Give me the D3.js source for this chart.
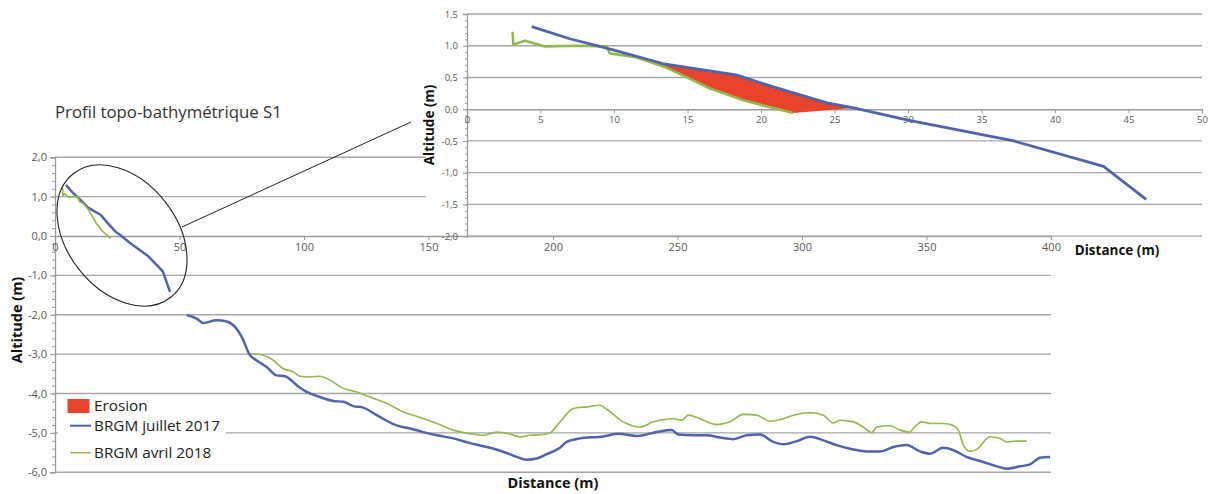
<!DOCTYPE html>
<html><head><meta charset="utf-8">
<script src="https://cdn.jsdelivr.net/npm/d3@7"></script>
<style>body{margin:0;background:#fff}svg{display:block}text{font-family:"Open Sans",sans-serif}</style>
</head><body><svg id="c" width="1208" height="494"></svg>
<script>
const title = "Profil topo-bathymétrique S1";
const legendLabels = ["Erosion", "BRGM juillet 2017", "BRGM avril 2018"];
const axisTitleX = "Distance  (m)";
const axisTitleY = "Altitude  (m)";
const mainXTicks = [0, 50, 100, 150, 200, 250, 300, 350, 400];
const mainYTicks = [2, 1, 0, -1, -2, -3, -4, -5, -6];
const insetXTicks = [0, 5, 10, 15, 20, 25, 30, 35, 40, 45, 50];
const insetYTicks = [1.5, 1, 0.5, 0, -0.5, -1, -1.5, -2];

// topographic part (distance m, altitude m)
const topo2017 = [[4.4,1.30],[7,1.11],[10,0.93],[13.3,0.72],[15.5,0.64],[18.3,0.54],[21,0.34],[24.5,0.10],[26.3,0.02],[30,-0.17],[37.2,-0.50],[43.3,-0.90],[46.2,-1.42]];
const topo2018 = [[3.1,1.22],[3.15,1.02],[3.95,1.08],[5.3,0.99],[7.5,1.0],[9.5,0.99],[9.7,0.88],[11.5,0.82],[13.4,0.67],[14.9,0.51],[16.5,0.33],[18.8,0.14],[22.2,-0.06]];
// bathymetric part
const bathy2017 = [[52.9,-2.01],[56.9,-2.10],[59.6,-2.21],[64.9,-2.14],[69.0,-2.17],[72.3,-2.31],[75.0,-2.56],[78.3,-3.03],[81.0,-3.16],[85.0,-3.33],[89.0,-3.54],[92.4,-3.56],[97.1,-3.79],[101.1,-3.96],[106.4,-4.09],[111.8,-4.19],[115.8,-4.21],[119.8,-4.32],[123.8,-4.36],[129.2,-4.55],[137.2,-4.81],[142.6,-4.89],[147.9,-4.98],[153.3,-5.06],[160.0,-5.14],[166.7,-5.26],[173.4,-5.36],[180.0,-5.48],[185.4,-5.61],[189.4,-5.68],[193.5,-5.65],[197.5,-5.54],[202.8,-5.38],[205.5,-5.23],[210.8,-5.14],[220.2,-5.09],[226.2,-5.02],[233.6,-5.08],[241.6,-4.98],[247.7,-4.93],[250.3,-5.04],[256.3,-5.06],[261.7,-5.06],[267.1,-5.12],[272.4,-5.16],[277.8,-5.06],[283.1,-5.04],[288.5,-5.23],[292.5,-5.29],[297.9,-5.21],[303.2,-5.10],[308.6,-5.19],[313.9,-5.31],[320.6,-5.42],[326.0,-5.47],[331.3,-5.47],[336.7,-5.36],[342.0,-5.31],[347.4,-5.47],[351.4,-5.53],[356.7,-5.38],[360.8,-5.44],[366.1,-5.61],[372.8,-5.74],[378.2,-5.85],[382.2,-5.91],[387.6,-5.85],[391.6,-5.80],[395.6,-5.63],[399.6,-5.61]];
const bathy2018 = [[78.3,-2.99],[83.7,-3.03],[87.7,-3.16],[91.7,-3.37],[95.7,-3.45],[98.4,-3.56],[102.4,-3.58],[106.4,-3.56],[110.4,-3.66],[115.8,-3.87],[121.2,-3.96],[126.5,-4.09],[133.2,-4.25],[139.9,-4.47],[146.6,-4.61],[153.3,-4.76],[160.0,-4.93],[166.7,-5.02],[172.0,-5.06],[177.4,-4.98],[182.7,-5.03],[186.7,-5.10],[190.8,-5.06],[196.1,-5.04],[198.8,-5.00],[202.8,-4.72],[208.2,-4.38],[213.5,-4.34],[218.9,-4.30],[221.6,-4.40],[228.2,-4.72],[234.9,-4.85],[240.3,-4.72],[248.3,-4.64],[251.7,-4.68],[254.3,-4.55],[259.0,-4.64],[265.7,-4.79],[271.1,-4.72],[276.4,-4.53],[281.8,-4.55],[287.1,-4.70],[292.5,-4.64],[296.5,-4.55],[303.2,-4.49],[308.6,-4.55],[312.6,-4.75],[315.3,-4.68],[320.6,-4.72],[324.6,-4.85],[328.0,-4.99],[330.0,-4.85],[335.3,-4.82],[339.4,-4.93],[343.4,-4.98],[344.7,-4.89],[348.1,-4.72],[351.4,-4.76],[356.7,-4.76],[360.8,-4.81],[362.8,-4.93],[364.8,-5.31],[367.5,-5.47],[370.2,-5.42],[375.5,-5.10],[379.5,-5.14],[382.2,-5.23],[386.2,-5.21],[390.2,-5.21]];
const erosionRange = [12, 26.3];

const C_BLUE = "#5163a9", C_GREEN = "#93b84b", C_RED = "#e8432b", C_GRID = "#a6a6a6", C_AXIS = "#9a9a9a", C_LBL = "#595959";
const loc = d3.formatLocale({decimal: ",", thousands: " ", grouping: [3], currency: ["", ""], minus: "-"});
const f1 = loc.format(".1f");

const svg = d3.select("#c");

// ---------- MAIN CHART ----------
const mx = d3.scaleLinear().domain([0, 400]).range([55, 1051]);
const my = d3.scaleLinear().domain([-6, 2]).range([472.25, 157.25]);
const main = svg.append("g");

main.selectAll("line.g").data(mainYTicks.filter(d => d !== 0)).join("line")
  .attr("x1", mx(0)).attr("x2", mx(400)).attr("y1", d => my(d)).attr("y2", d => my(d))
  .attr("stroke", C_GRID).attr("stroke-width", 1.3);

const myAxis = main.append("g").attr("transform", `translate(${mx(0)},0)`)
  .call(d3.axisLeft(my).tickValues(mainYTicks).tickFormat(f1).tickSize(5).tickPadding(3));
main.append("g").attr("transform", `translate(${mx(0)},0)`)
  .call(d3.axisLeft(my).tickValues(d3.range(-6, 2.001, 0.2)).tickFormat("").tickSize(3))
  .call(g => g.select(".domain").remove());
const mxAxis = main.append("g").attr("transform", `translate(0,${my(0)})`)
  .call(d3.axisBottom(mx).tickValues(mainXTicks).tickFormat(d3.format("d")).tickSize(4).tickPadding(3));
[myAxis, mxAxis].forEach(g => {
  g.select(".domain").attr("stroke", C_AXIS).attr("stroke-width", 1.3);
  g.selectAll(".tick text").attr("fill", C_LBL).style("font-size", "11px").style("font-family", "Open Sans");
});
main.selectAll(".tick line").attr("stroke", C_AXIS);

const mline = d3.line().x(d => mx(d[0])).y(d => my(d[1])).curve(d3.curveMonotoneX);
main.append("path").attr("d", mline(bathy2018)).attr("fill", "none").attr("stroke", C_GREEN).attr("stroke-width", 1.6).attr("stroke-linejoin", "round");
main.append("path").attr("d", mline(bathy2017)).attr("fill", "none").attr("stroke", C_BLUE).attr("stroke-width", 2.5).attr("stroke-linejoin", "round");
const mlineS = d3.line().x(d => mx(d[0])).y(d => my(d[1]));
main.append("path").attr("d", mlineS(topo2017)).attr("fill", "none").attr("stroke", C_BLUE).attr("stroke-width", 2.5).attr("stroke-linejoin", "round");
main.append("path").attr("d", mlineS(topo2018)).attr("fill", "none").attr("stroke", C_GREEN).attr("stroke-width", 1.6).attr("stroke-linejoin", "round");

main.append("ellipse").attr("cx", 122).attr("cy", 235.5).attr("rx", 78.7).attr("ry", 54.8)
  .attr("transform", "rotate(51.75,122,235.5)").attr("fill", "none").attr("stroke", "#222").attr("stroke-width", 1.1);
main.append("line").attr("x1", 182).attr("y1", 227).attr("x2", 411).attr("y2", 122).attr("stroke", "#222").attr("stroke-width", 1);

svg.append("text").attr("x", 55).attr("y", 118).text(title).attr("fill", "#333").style("font-size", "16.8px");

svg.append("text").attr("transform", "translate(22,320) rotate(-90)").attr("text-anchor", "middle")
  .text(axisTitleY).style("font-weight", "bold").style("font-size", "14.5px").attr("fill", "#111");
svg.append("text").attr("x", 553).attr("y", 488).attr("text-anchor", "middle")
  .text(axisTitleX).style("font-weight", "bold").style("font-size", "14.5px").attr("fill", "#111");

const lg = svg.append("g");
lg.append("rect").attr("x", 58).attr("y", 395).attr("width", 168).attr("height", 70).attr("fill", "#fff");
lg.append("rect").attr("x", 67.5).attr("y", 399).attr("width", 22).attr("height", 14).attr("fill", C_RED);
lg.append("line").attr("x1", 70).attr("x2", 91).attr("y1", 425.7).attr("y2", 425.7).attr("stroke", C_BLUE).attr("stroke-width", 2);
lg.append("line").attr("x1", 70).attr("x2", 91).attr("y1", 452.7).attr("y2", 452.7).attr("stroke", C_GREEN).attr("stroke-width", 1.5);
lg.selectAll("text").data(legendLabels).join("text")
  .attr("x", 94).attr("y", (d, i) => [406, 425.7, 452.7][i]).attr("dy", "0.35em")
  .text(d => d).attr("fill", "#222").style("font-size", "15.3px");

// ---------- INSET ----------
const ix = d3.scaleLinear().domain([0, 50]).range([467, 1202]);
const iy = d3.scaleLinear().domain([-2, 1.5]).range([236.2, 14]);
const ins = svg.append("g");
ins.append("rect").attr("x", 426).attr("y", 0).attr("width", 782).attr("height", 233).attr("fill", "#fff");
ins.selectAll("line.g").data(insetYTicks.filter(d => d !== 0)).join("line")
  .attr("x1", ix(0)).attr("x2", ix(50)).attr("y1", d => iy(d)).attr("y2", d => iy(d))
  .attr("stroke", C_GRID).attr("stroke-width", 1.3);
const iyAxis = ins.append("g").attr("transform", `translate(${ix(0)},0)`)
  .call(d3.axisLeft(iy).tickValues(insetYTicks).tickFormat(f1).tickSize(4).tickPadding(5));
ins.append("g").attr("transform", `translate(${ix(0)},0)`)
  .call(d3.axisLeft(iy).tickValues(d3.range(-2, 1.501, 0.1)).tickFormat("").tickSize(2))
  .call(g => g.select(".domain").remove());
const ixAxis = ins.append("g").attr("transform", `translate(0,${iy(0)})`)
  .call(d3.axisBottom(ix).tickValues(insetXTicks).tickFormat(d3.format("d")).tickSize(4).tickPadding(3));
[iyAxis, ixAxis].forEach(g => {
  g.select(".domain").attr("stroke", C_AXIS).attr("stroke-width", 1.3);
  g.selectAll(".tick text").attr("fill", C_LBL).style("font-size", "9.5px").style("font-family", "Open Sans");
});
ins.selectAll(".tick line").attr("stroke", C_AXIS);

function interp(arr, x) {
  for (let i = 0; i < arr.length - 1; i++) {
    if (x >= arr[i][0] && x <= arr[i + 1][0]) {
      const t = (x - arr[i][0]) / (arr[i + 1][0] - arr[i][0]);
      return arr[i][1] + t * (arr[i + 1][1] - arr[i][1]);
    }
  }
  return arr[arr.length - 1][1];
}
const [e0, e1] = erosionRange;
const upper = [[e0, interp(topo2017, e0)], ...topo2017.filter(d => d[0] > e0 && d[0] < e1), [e1, interp(topo2017, e1)]];
const lower = [[e0, interp(topo2018, e0)], ...topo2018.filter(d => d[0] > e0)];
const poly = upper.concat(lower.slice().reverse());
const iline = d3.line().x(d => ix(d[0])).y(d => iy(d[1]));
ins.append("path").attr("d", iline(poly) + "Z").attr("fill", C_RED);
ins.append("path").attr("d", iline(topo2018)).attr("fill", "none").attr("stroke", C_GREEN).attr("stroke-width", 2.6).attr("stroke-linejoin", "round");
ins.append("path").attr("d", iline(topo2017)).attr("fill", "none").attr("stroke", C_BLUE).attr("stroke-width", 2.8).attr("stroke-linejoin", "round");

ins.append("text").attr("transform", "translate(434,125) rotate(-90)").attr("text-anchor", "middle")
  .text(axisTitleY).style("font-weight", "bold").style("font-size", "13.5px").attr("fill", "#111");
ins.append("text").attr("x", 1117).attr("y", 255).attr("text-anchor", "middle")
  .text(axisTitleX).style("font-weight", "bold").style("font-size", "13.5px").attr("fill", "#111");
</script></body></html>
